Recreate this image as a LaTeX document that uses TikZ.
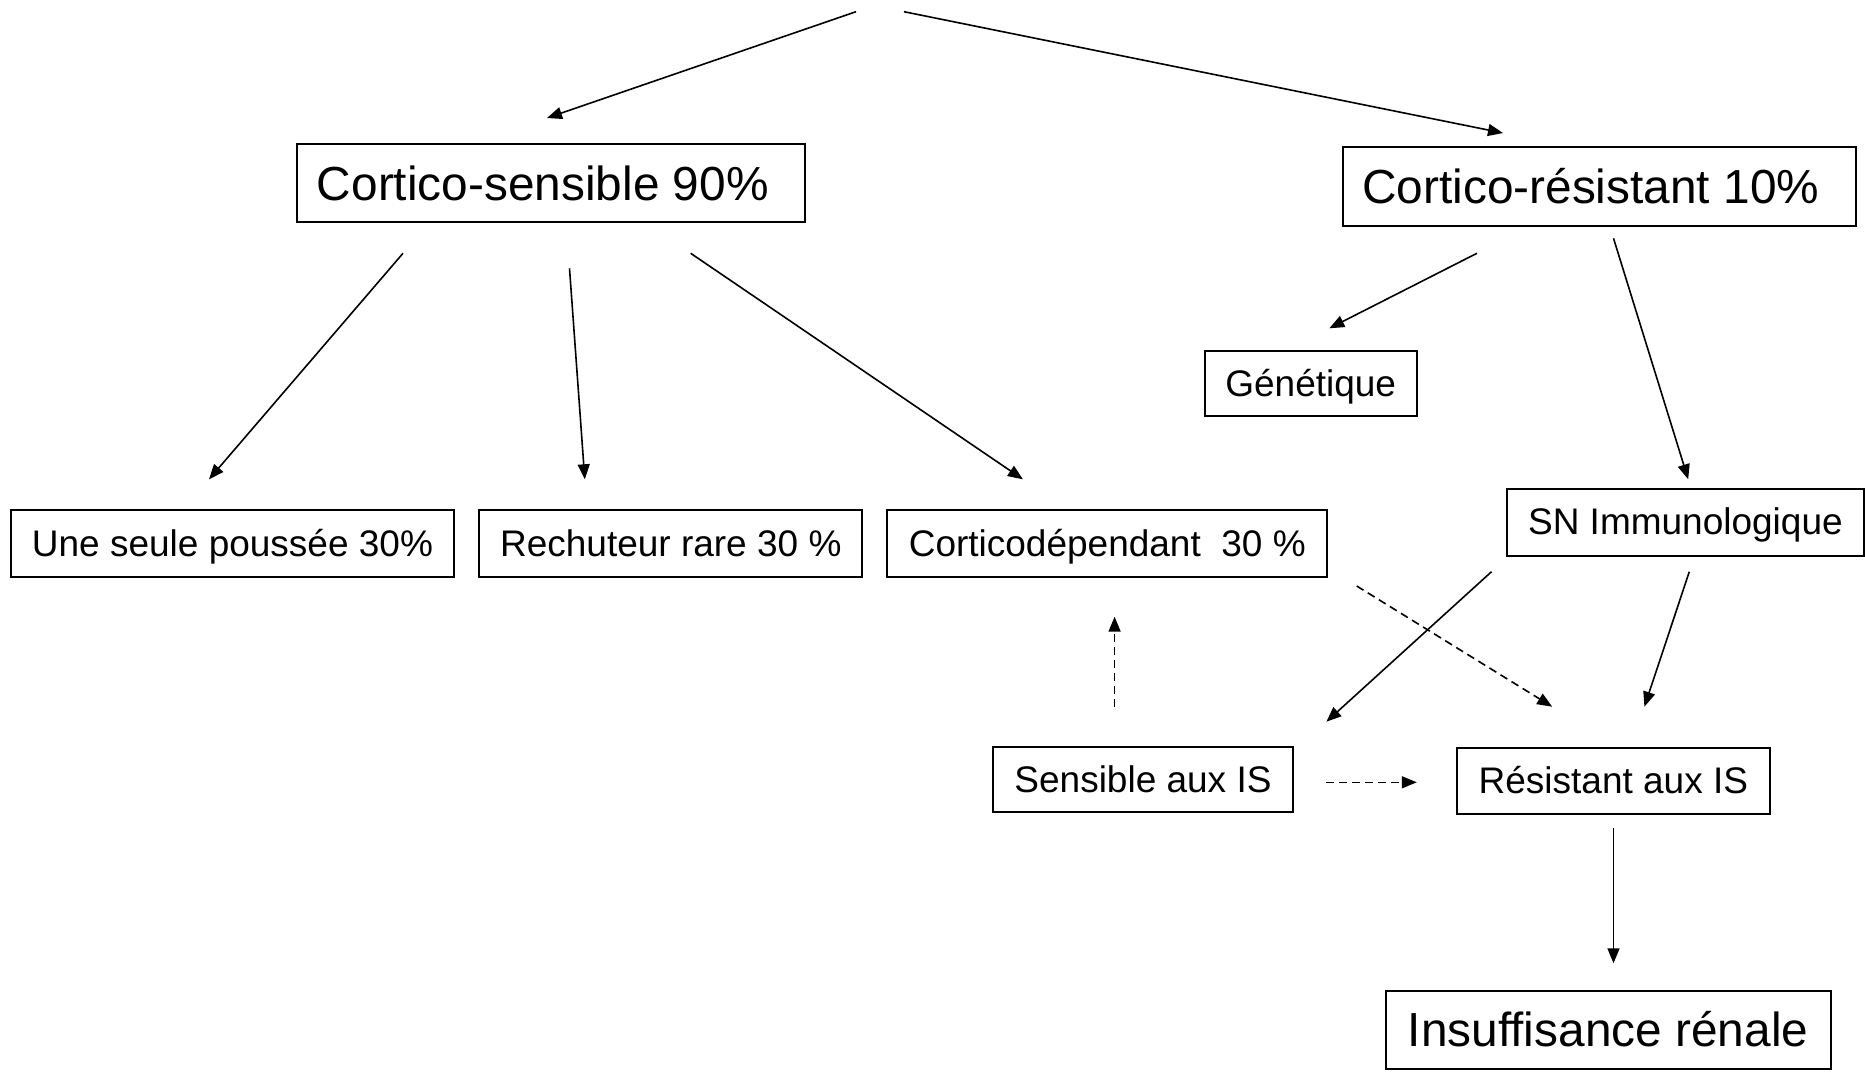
\documentclass[tikz,border=0pt]{standalone}
\usepackage{fontspec}
\setmainfont{Liberation Sans}
\usetikzlibrary{arrows.meta}
\begin{document}
\begin{tikzpicture}[x=0.5pt,y=-0.5pt,
  box/.style={draw, line width=1pt, inner sep=0pt, anchor=center},
  big/.style={box, font=\fontsize{23.9}{28}\selectfont, text height=21.9pt, text depth=5pt},
  small/.style={box, font=\fontsize{18.5}{22}\selectfont, text height=16.7pt, text depth=4pt},
  arr/.style={line width=0.8pt, -{Triangle[length=7.5pt,width=6pt]}},
  darr/.style={arr, dash pattern=on 4pt off 2.5pt}]
\useasboundingbox (0,0) rectangle (1865,1072);
% boxes
\node[big, minimum width=254pt, minimum height=39.25pt] (cs) at (551.3,183.2) {\kern-8.5pt Cortico-sensible 90\%};
\node[big, minimum width=256.5pt, minimum height=39.25pt] (cr) at (1599.2,186.7) {\kern-8.5pt Cortico-résistant 10\%};
\node[small, minimum width=221.9pt, minimum height=33.3pt] (une) at (232.5,543.6) {Une seule poussée 30\%};
\node[small, minimum width=191.5pt, minimum height=33.3pt] (rech) at (670.8,543.6) {Rechuteur rare 30 \%};
\node[small, minimum width=220pt, minimum height=33.3pt] (cd) at (1107.3,543.6) {Corticodépendant\ \ 30 \%};
\node[small, minimum width=105.9pt, minimum height=32.7pt] (gen) at (1310.7,383.6) {Génétique};
\node[small, minimum width=178.4pt, minimum height=33.4pt] (sn) at (1685.4,522.1) {SN Immunologique};
\node[small, minimum width=149.9pt, minimum height=32.8pt] (sis) at (1143,779.6) {Sensible aux IS};
\node[small, minimum width=156.4pt, minimum height=32.7pt] (ris) at (1613.4,780.8) {Résistant aux IS};
\node[big, minimum width=222.4pt, minimum height=39.25pt] (ir) at (1608.1,1030) {Insuffisance rénale};
% connector end points
\coordinate (t1s) at (856,11.7);   \coordinate (t1e) at (547,118);
\coordinate (t2s) at (904,11.7);   \coordinate (t2e) at (1503,133);
\coordinate (c1s) at (403,253.3);  \coordinate (c1e) at (209,479.3);
\coordinate (c2s) at (569.5,268.3);\coordinate (c2e) at (584.8,479.3);
\coordinate (c3s) at (690.7,253.3);\coordinate (c3e) at (1022.9,479.3);
\coordinate (r1s) at (1476.9,253.3);\coordinate (r1e) at (1329.3,328.3);
\coordinate (r2s) at (1613.5,238.3);\coordinate (r2e) at (1688.2,479.3);
\coordinate (s1s) at (1491.5,571.7);\coordinate (s1e) at (1326.4,721.7);
\coordinate (s2s) at (1689.3,571.7);\coordinate (s2e) at (1644.4,706.7);
\coordinate (d1s) at (1356.7,586);  \coordinate (d1e) at (1552.2,706.7);
\coordinate (d2s) at (1114.6,706.7);\coordinate (d2e) at (1114.6,616.7);
\coordinate (d3s) at (1326.4,782.3);\coordinate (d3e) at (1416.8,782.3);
\coordinate (vs) at (1613.5,828.3); \coordinate (ve) at (1613.5,963.3);
% connectors
\draw[arr] (t1s) -- (t1e);
\draw[arr] (t2s) -- (t2e);
\draw[arr] (c1s) -- (c1e);
\draw[arr] (c2s) -- (c2e);
\draw[arr] (c3s) -- (c3e);
\draw[arr] (r1s) -- (r1e);
\draw[arr] (r2s) -- (r2e);
\draw[arr] (s1s) -- (s1e);
\draw[arr] (s2s) -- (s2e);
\draw[darr] (d1s) -- (d1e);
\draw[darr] (d2s) -- (d2e);
\draw[darr] (d3s) -- (d3e);
\draw[arr] (vs) -- (ve);
\end{tikzpicture}
\end{document}
